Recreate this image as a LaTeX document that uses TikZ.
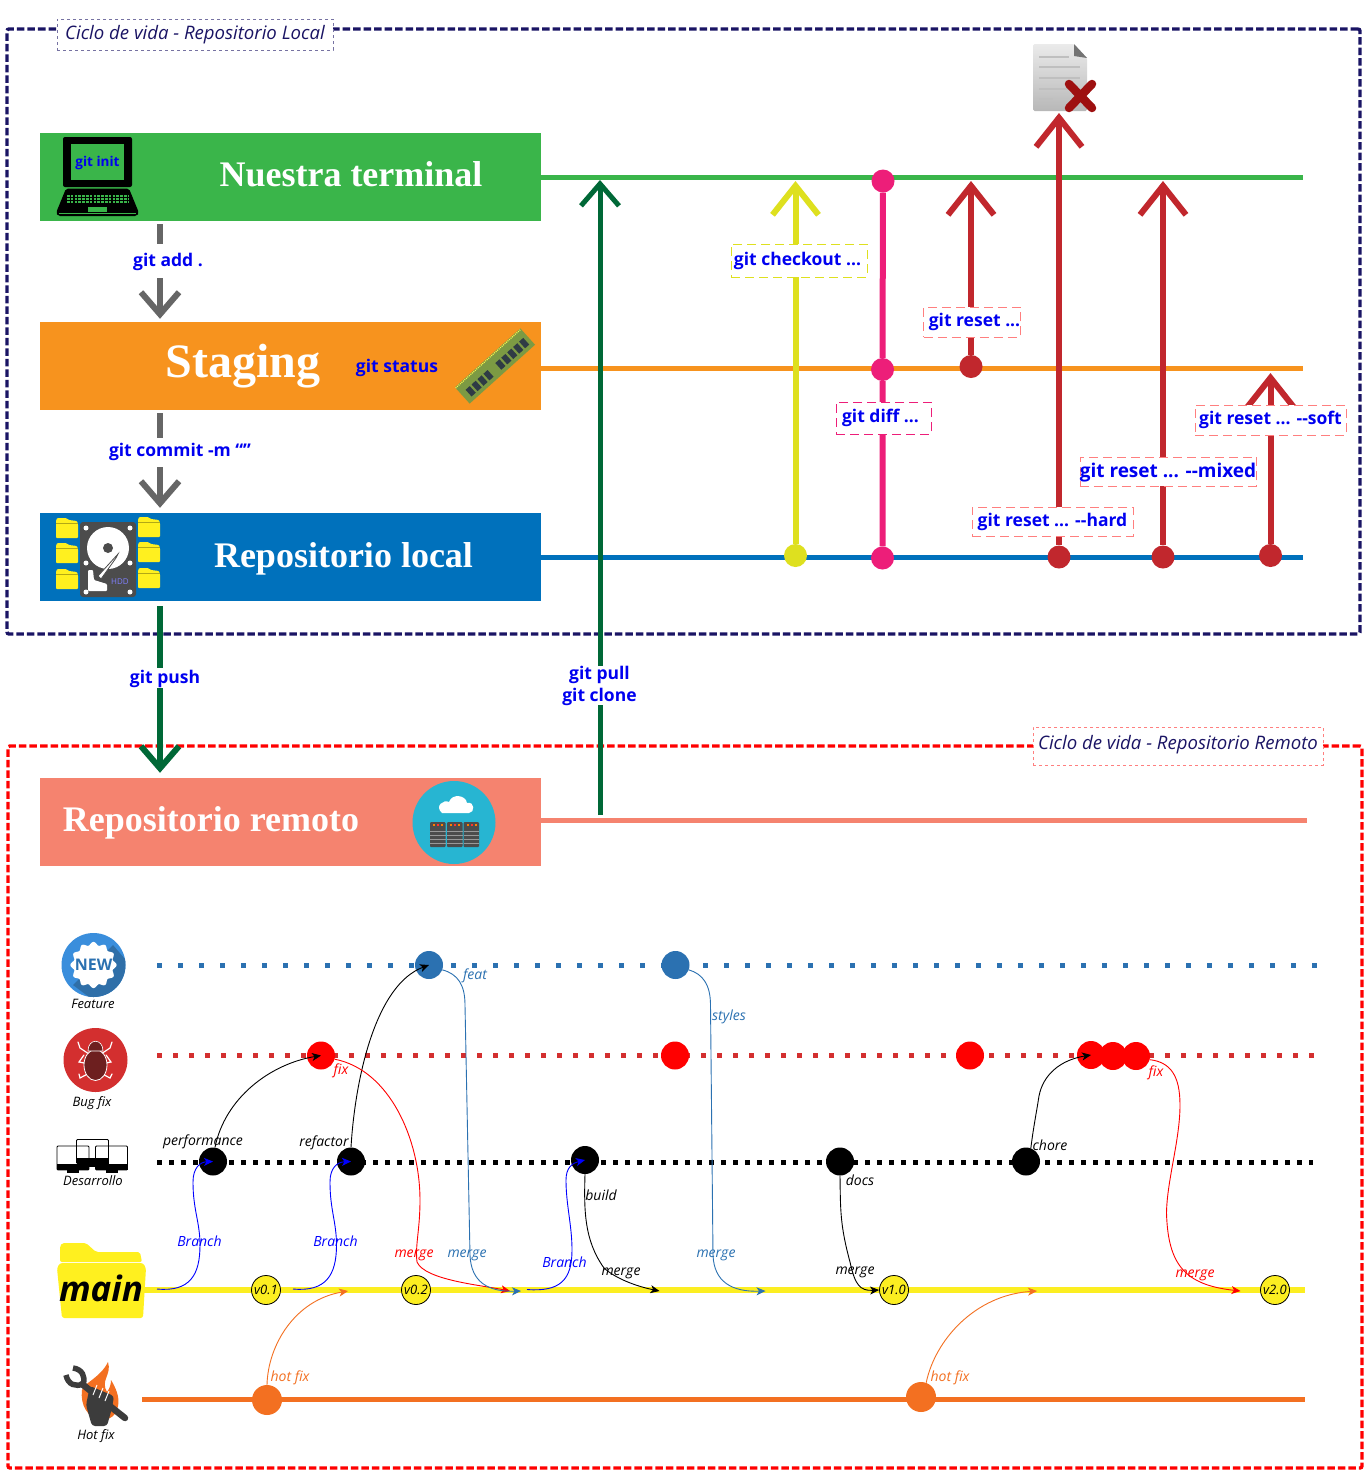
\documentclass[tikz,border=0pt]{standalone}
\usepackage{fontspec}
\setmainfont{Open Sans}
\newfontfamily\serifT{Liberation Serif}
\usetikzlibrary{arrows.meta,calc,shapes.geometric}
\definecolor{navyF}{HTML}{1A1464}
\definecolor{greenB}{HTML}{3AB54A}
\definecolor{orangeB}{HTML}{F7931E}
\definecolor{blueB}{HTML}{0071BC}
\definecolor{salmonB}{HTML}{F5836F}
\definecolor{grayA}{HTML}{666666}
\definecolor{pushG}{HTML}{006837}
\definecolor{yellowA}{HTML}{DEE01F}
\definecolor{pinkA}{HTML}{ED1E79}
\definecolor{redA}{HTML}{C1272D}
\definecolor{redL}{HTML}{FF7F7F}
\definecolor{labelB}{HTML}{0000F0}
\definecolor{featB}{HTML}{2B71B1}
\definecolor{bugR}{HTML}{D32F2F}
\definecolor{mainY}{HTML}{FCEE21}
\definecolor{hotO}{HTML}{F37021}
\definecolor{folderY}{HTML}{FFF01F}
\definecolor{cloudC}{HTML}{27B5D2}
\definecolor{ramG}{HTML}{7C9A43}
\definecolor{ramD}{HTML}{2F3B45}
\definecolor{crossR}{HTML}{9E1010}
\definecolor{newL}{HTML}{3A8EDC}
\definecolor{newD}{HTML}{2F6FA8}
\definecolor{bugD}{HTML}{6D1F1F}
\definecolor{toolD}{HTML}{3C3C3C}
\tikzset{
  frameBox/.style={draw,line width=3.4pt,dash pattern=on 7.5pt off 3pt,rounded corners=2pt,inner sep=0pt},
  titleBox/.style={draw,fill=white,dashed,line width=.6pt,inner sep=0pt,font=\itshape\fontsize{18.6}{20}\selectfont,text=navyF},
  barBox/.style={inner sep=0pt,minimum width=501pt,minimum height=88pt},
  barTitle/.style={text=white,inner sep=0pt,font=\serifT\bfseries\fontsize{36}{40}\selectfont},
  laneLine/.style={line width=5pt},
  gitBase/.style={text=labelB,inner sep=0pt,font=\bfseries\fontsize{17.5}{22}\selectfont},
  gitLabel/.style={gitBase,text height=14.5pt,text depth=3pt},
  gitCover/.style={gitLabel,fill=white},
  dashBox/.style={gitBase,text height=13.5pt,text depth=4pt,fill=white,draw,dashed,line width=.6pt,dash pattern=on 9pt off 5pt},
  bigArrow/.style={line width=#1,-{Straight Barb[length=22pt,width=38pt,line width=#1]}},
  upArrow/.style={line width=6pt,-{Straight Barb[length=29pt,width=46pt,line width=6pt]}},
  upDot/.style={circle,inner sep=0pt,minimum size=23pt},
  commit/.style={circle,inner sep=0pt,minimum size=28pt},
  version/.style={circle,draw=black,fill=mainY,line width=.8pt,inner sep=0pt,minimum size=29pt,font=\itshape\fontsize{13}{14}\selectfont},
  thinCurve/.style={line width=.9pt,-{Stealth[length=9pt,width=8pt,inset=2.5pt]}},
  laneText/.style={inner sep=0pt,font=\itshape\fontsize{14}{15}\selectfont,text height=10.8pt,text depth=2.2pt},
  iconText/.style={inner sep=0pt,font=\itshape\fontsize{13}{15}\selectfont,text height=10.8pt,text depth=2.2pt}
}
\newcommand{\miniFolder}[2]{%
  \fill[folderY,rounded corners=1pt] (#1,#2+3) -- (#1+1,#2) -- (#1+10,#2) -- (#1+13,#2+2) -- (#1+21,#2+3) -- (#1+22,#2+6) -- (#1+22,#2+20) -- (#1,#2+20) -- cycle;
  \draw[black!30!folderY,line width=.5pt] (#1,#2+5) -- (#1+22,#2+5);}
\newcommand{\monitorIcon}[3]{%
  \draw[black,line width=.8pt,rounded corners=1pt,#3] (#1,#2) rectangle (#1+32,#2+24);
  \fill[black] (#1,#2+18) rectangle (#1+32,#2+24);
  \fill[black] (#1+10,#2+24) rectangle (#1+22,#2+27);}
\begin{document}
\begin{tikzpicture}[x=1pt,y=-1pt]
\useasboundingbox (0,0) rectangle (1366,1476);
\fill[white] (0,0) rectangle (1366,1476);

% frames
\node[frameBox,draw=navyF,minimum width=1353pt,minimum height=605pt] (frameLocal) at (683.5,331.5) {};
\node[frameBox,draw=red,minimum width=1354pt,minimum height=722pt] (frameRemote) at (685,1107) {};
\node[titleBox,draw=navyF!60,minimum width=276pt,minimum height=31pt] (titleLocal) at (195,34.5) {\raisebox{-2pt}{Ciclo de vida - Repositorio Local}};
\node[titleBox,draw=redL,minimum width=290pt,minimum height=38pt] (titleRemote) at (1178,746) {\raisebox{8pt}{Ciclo de vida - Repositorio Remoto}};

% bars
\node[barBox,fill=greenB] (barT) at (290.5,177) {};
\node[barBox,fill=orangeB] (barS) at (290.5,366) {};
\node[barBox,fill=blueB] (barL) at (290.5,557) {};
\node[barBox,fill=salmonB] (barR) at (290.5,822) {};
\node[barTitle] (tT) at (351,174.5) {Nuestra terminal};
\node[barTitle,font=\serifT\bfseries\fontsize{48}{50}\selectfont] (tS) at (243,366) {Staging};
\node[barTitle] (tL) at (343.5,559) {Repositorio local};
\node[barTitle] (tR) at (211,822.5) {Repositorio remoto};

% horizontal lines
\coordinate (eT) at (1303,177);
\coordinate (eS) at (1303,368);
\coordinate (eL) at (1303,557);
\coordinate (eR) at (1307,820);
\draw[laneLine,greenB] (barT.east |- eT) -- (eT);
\draw[laneLine,orangeB] (barS.east |- eS) -- (eS);
\draw[laneLine,blueB] (barL.east |- eL) -- (eL);
\draw[laneLine,salmonB] (barR.east |- eR) -- (eR);

% laptop
\fill[black,rounded corners=2pt] (63,137) rectangle (132,187);
\fill[greenB] (70.5,144) rectangle (124,180);
\fill[black,rounded corners=2pt] (66,188.5) -- (129,188.5) -- (139,213) -- (137,216) -- (58,216) -- (56,213) -- cycle;
\foreach \k in {196,199,202}{\draw[greenB,line width=1.5pt,dash pattern=on 2.6pt off 1.2pt] (67,\k) -- (128,\k);}
\fill[greenB] (88,207) rectangle (107,212);
\draw[greenB,line width=.7pt] (59,213.5) -- (136,213.5);
\node[gitLabel,font=\bfseries\fontsize{13.5}{15}\selectfont] (lInit) at (97.5,161) {git init};

% RAM
\begin{scope}[shift={(495,366)},rotate=42]
\fill[ramG] (-44,-11) rectangle (44,11);
\foreach \c in {-35,-27,-19,-11,5,13,21,29,37}{\fill[ramD] (\c-2.8,-2) rectangle (\c+2.8,7);}
\draw[yellow!70!white,line width=1.2pt,dash pattern=on 1pt off 1pt] (-44,-10) -- (44,-10);
\end{scope}
\node[gitLabel] (lStatus) at (397,367) {git status};

% HDD + folders
\foreach \a/\b in {56/518,56/543,56/569,138/517,138/542,138/568}{\miniFolder{\a}{\b}}
\fill[black!70,rounded corners=3pt] (80,522) rectangle (136,597);
\foreach \a/\b in {86/528,130/528,86/563,130/563,86/592,130/592}{\fill[white] (\a,\b) circle (2.5);}
\fill[white] (108,548) circle (21);
\fill[black!70] (108,548) circle (5);
\fill[white,draw=black!70,line width=.8pt] (118,554) -- (116,558) -- (101,579) -- (98,576) -- cycle;
\fill[white,rounded corners=1pt] (88,570) -- (93,570) -- (94,580) -- (107,584) -- (107,591) -- (88,591) -- cycle;
\node[inner sep=0pt,text=blue!50!white,font=\fontsize{8}{8}\selectfont] (hddT) at (120,582) {HDD};

% cloud server
\node[circle,fill=cloudC,inner sep=0pt,minimum size=83pt] (cloudI) at (454,822.5) {};
\fill[white] (442,813) .. controls (434,806) and (444,799) .. (449,802) .. controls (452,793) and (466,795) .. (467,803) .. controls (475,801) and (475,813) .. (469,813) -- cycle;
\foreach \a in {430,447,463.5}{
  \fill[black!70,rounded corners=1pt] (\a,822) rectangle (\a+15.5,847);
  \foreach \b in {831,835,839,843}{\draw[white!60!black,line width=.6pt] (\a,\b) -- (\a+15.5,\b);}
  \fill[orange] (\a+3,823.5) rectangle (\a+5,825.5);
  \fill[red!80] (\a+7,823.5) rectangle (\a+9,825.5);
  \fill[orange] (\a+11,823.5) rectangle (\a+13,825.5);
}

% deleted file
\shade[top color=black!8,bottom color=black!28,rounded corners=1.5pt] (1033,44) -- (1074,44) -- (1087,58) -- (1087,111) -- (1033,111) -- cycle;
\fill[black!55] (1074,44) -- (1087,58) -- (1074,56) -- cycle;
\foreach \a/\b/\c in {1039/1069/57,1039/1080/67,1039/1080/78,1039/1080/89,1039/1053/99}{\draw[black!25,line width=1.6pt] (\a,\c) -- (\b,\c);}
\draw[crossR,line width=8.5pt,line cap=round] (1069,84) -- (1092,108) (1092,84) -- (1069,108);

% main vertical arrows on the left
\coordinate (xG) at (160,0);
\coordinate (xP) at (600,0);
\draw[grayA,bigArrow=6pt,shorten <=3pt,shorten >=3pt] (barT.south -| xG) -- (barS.north -| xG);
\draw[grayA,bigArrow=6pt,shorten <=3pt,shorten >=5pt] (barS.south -| xG) -- (barL.north -| xG);
\draw[pushG,bigArrow=6pt,shorten <=5pt,shorten >=5pt] (barL.south -| xG) -- (barR.north -| xG);
\coordinate (pullS) at (600,815);
\coordinate (pullT) at (600,180);
\draw[pushG,bigArrow=5pt] (pullS) -- (pullT);
\node[gitCover,minimum height=34pt] (lAdd) at (168,261) {git add .};
\node[gitCover,text height=12pt,text depth=4pt,minimum height=29pt] (lCommit) at (180,452) {git commit -m “”};
\node[gitCover,minimum height=20pt] (lPush) at (165,678) {git push};
\node[gitBase,fill=white,align=center] (lPull) at (599.5,685.5) {git pull\\git clone};

% commands
\node[upDot,fill=yellowA] (dCheck) at (795.5,555.5) {};
\node[upDot,fill=pinkA] (dDiffT) at (883,181) {};
\node[upDot,fill=pinkA] (dDiffM) at (882.5,369.5) {};
\node[upDot,fill=pinkA] (dDiffB) at (882.5,558) {};
\node[upDot,fill=redA] (dReset) at (971,366.5) {};
\node[upDot,fill=redA] (dHard) at (1059,557) {};
\node[upDot,fill=redA] (dMixed) at (1163,557) {};
\node[upDot,fill=redA] (dSoft) at (1270.5,555.5) {};
\coordinate (tCheck) at (795.5,181);
\coordinate (tReset) at (971,181);
\coordinate (tHard) at (1059,113);
\coordinate (tMixed) at (1163,181);
\coordinate (tSoft) at (1270.5,373);
\draw[yellowA,upArrow] (dCheck) -- (tCheck);
\draw[pinkA,line width=6pt] (dDiffB) -- (dDiffM) -- (dDiffT);
\draw[redA,upArrow] (dReset) -- (tReset);
\draw[redA,upArrow] (dHard) -- (tHard);
\draw[redA,upArrow] (dMixed) -- (tMixed);
\draw[redA,upArrow] (dSoft) -- (tSoft);
\node[dashBox,draw=yellowA,minimum width=136pt,minimum height=33pt] (lCheck) at (799,260.5) {git checkout ...\hspace*{3pt}};
\node[dashBox,draw=pinkA,minimum width=95pt,minimum height=32pt] (lDiff) at (883.5,418) {git diff ...\hspace*{6pt}};
\node[dashBox,draw=redL,minimum width=94pt,minimum height=30pt] (lReset) at (972,322) {\hspace*{5pt}git reset ...};
\node[dashBox,draw=redL,minimum width=151pt,minimum height=30pt] (lSoft) at (1270.5,420) {git reset ... -{}-soft};
\node[dashBox,draw=redL,text height=14.5pt,text depth=2pt,minimum width=172pt,minimum height=29pt,font=\bfseries\fontsize{19}{22}\selectfont] (lMixed) at (1168,471.5) {git reset ... -{}-mixed};
\node[dashBox,draw=redL,minimum width=161pt,minimum height=29pt] (lHard) at (1052.5,521.5) {git reset ... -{}-hard};

% lanes
\coordinate (fS) at (157,965); \coordinate (fE) at (1318,965);
\coordinate (bS) at (157,1055.5); \coordinate (bE) at (1315,1055.5);
\coordinate (dS) at (157,1162); \coordinate (dE) at (1313,1162);
\coordinate (mS) at (143,1290); \coordinate (mE) at (1305,1290);
\coordinate (hS) at (142,1399); \coordinate (hE) at (1305,1399);
\draw[laneLine,featB,dash pattern=on 5pt off 16pt] (fS) -- (fE);
\draw[laneLine,bugR,dash pattern=on 5pt off 11pt] (bS) -- (bE);
\draw[laneLine,black,dash pattern=on 5pt off 7pt] (dS) -- (dE);
\draw[line width=6pt,mainY] (mS) -- (mE);
\draw[laneLine,hotO] (hS) -- (hE);

% commits
\node[commit,fill=featB] (cFeat) at (429,965) {};
\node[commit,fill=featB] (cStyle) at (675.5,965) {};
\node[commit,fill=red] (cFix) at (321,1055.5) {};
\node[commit,fill=red] (cB2) at (675,1055.5) {};
\node[commit,fill=red] (cB3) at (970,1055.5) {};
\node[commit,fill=red] (cB4) at (1091,1055) {};
\node[commit,fill=red] (cB5) at (1113,1056) {};
\node[commit,fill=red] (cB6) at (1136,1056) {};
\node[commit,fill=black] (cPerf) at (213,1161.5) {};
\node[commit,fill=black] (cRef) at (351,1161.5) {};
\node[commit,fill=black] (cBuild) at (585,1160) {};
\node[commit,fill=black] (cDocs) at (840,1161.5) {};
\node[commit,fill=black] (cChore) at (1026,1161.5) {};
\node[version] (v1) at (266,1290) {v0.1};
\node[version] (v2) at (416,1290) {v0.2};
\node[version] (v3) at (894,1290) {v1.0};
\node[version] (v4) at (1275,1290) {v2.0};
\node[commit,fill=hotO,minimum size=30pt] (cH1) at (267,1400) {};
\node[commit,fill=hotO,minimum size=30pt] (cH2) at (921,1397) {};

% curves
\coordinate (s1) at (157,1289);
\coordinate (s2) at (293,1289);
\coordinate (s3) at (527,1289.5);
\coordinate (m1) at (510,1291);
\coordinate (m2) at (521,1291);
\coordinate (m3) at (659.5,1291);
\coordinate (m4) at (765.5,1291);
\coordinate (m5) at (1240.5,1291);
\coordinate (h1) at (348,1291);
\coordinate (h2) at (1037,1291);
\draw[thinCurve,blue] (s1) .. controls (190,1292) and (200,1275) .. (200,1245) .. controls (200,1222) and (193,1210) .. (193,1182) .. controls (193,1168) and (200,1162) .. (cPerf.center);
\draw[thinCurve,blue] (s2) .. controls (326,1292) and (336.5,1275) .. (336.5,1245) .. controls (336.5,1222) and (330,1210) .. (330,1182) .. controls (330,1168) and (337,1162) .. (cRef.center);
\draw[thinCurve,blue] (s3) .. controls (560,1292) and (572,1280) .. (572,1250) .. controls (572,1225) and (566,1205) .. (566,1180) .. controls (566,1168) and (572,1163) .. (cBuild.center);
\draw[thinCurve,black] (cPerf.north) ++(2,0) .. controls (225,1098) and (270,1064) .. (cFix.center);
\draw[thinCurve,black] (cRef.north) .. controls (355,1080) and (375,985) .. (cFeat.center);
\draw[thinCurve,red] (cFix.-15) .. controls (390,1070) and (420,1140) .. (420,1200) .. controls (420,1230) and (415,1245) .. (417,1262) .. controls (425,1280) and (480,1285) .. (m1);
\draw[thinCurve,featB] (cFeat.-20) .. controls (458,974) and (465,985) .. (465,1005) -- (470,1255) .. controls (471,1282) and (488,1292) .. (m2);
\draw[thinCurve,black] (cBuild.south) .. controls (584,1210) and (584,1240) .. (604,1268) .. controls (615,1278) and (635,1286) .. (m3);
\draw[thinCurve,featB] (cStyle.-20) .. controls (703,974) and (710.5,985) .. (710.5,1005) -- (713,1255) .. controls (714,1282) and (732,1292) .. (m4);
\draw[thinCurve,black] (cDocs.south) .. controls (840.5,1210) and (840,1225) .. (850,1262) .. controls (855,1285) and (860,1291) .. (v3.west);
\draw[thinCurve,black] (cChore.70) .. controls (1033,1130) and (1036,1115) .. (1039,1096) .. controls (1043,1075) and (1060,1060) .. (cB4.center);
\draw[thinCurve,red] (cB6.-15) .. controls (1170,1062) and (1180,1075) .. (1180,1105) .. controls (1180,1140) and (1167,1180) .. (1166.5,1213) .. controls (1168,1265) and (1185,1285) .. (m5);
\draw[thinCurve,hotO] (cH1.north) .. controls (268,1345) and (295,1300) .. (h1);
\draw[thinCurve,hotO] (cH2.70) .. controls (935,1340) and (975,1295) .. (h2);

% lane texts
\foreach \n/\a/\b/\t/\c in {
 tpf/203/1141/performance/black, trf/324/1142/refactor/black,
 tfx/341/1070/fix/red, tfe/475/975/feat/featB, tst/729/1016/styles/featB,
 tbd/601/1196/build/black, tdc/860/1181/docs/black, tch/1050/1146/chore/black,
 tf2/1156/1072/fix/red, tb1/199.5/1242/Branch/blue, tb2/335.5/1242/Branch/blue,
 tb3/564.5/1263/Branch/blue, tm1/414/1253/merge/red, tm2/467/1253/merge/featB,
 tm3/621/1271/merge/black, tm4/716/1253/merge/featB, tm5/855/1270/merge/black,
 tm6/1195/1273/merge/red, th1/290/1377/hot fix/hotO, th2/950/1377/hot fix/hotO}
 {\node[laneText,text=\c] (\n) at (\a,\b) {\t};}
\foreach \n/\a/\b/\t in {lFeat/93/1004/Feature, lBug/92/1102/Bug fix, lDes/93/1181/Desarrollo, lHot/96/1435/Hot fix}
 {\node[iconText] (\n) at (\a,\b) {\t};}

% NEW icon
\fill[newL] (93.5,965) circle (32);
\begin{scope}
\clip (93.5,965) circle (32);
\fill[newD] (113,945) -- (130,965) -- (130,1000) -- (93,1000) -- (73,985) -- cycle;
\end{scope}
\fill[white] plot[domain=0:360,samples=121,smooth] ({93.5+(21.5+1.6*cos(12*\x))*cos(\x)},{965+(21.5+1.6*cos(12*\x))*sin(\x)}) -- cycle;
\node[inner sep=0pt,text=featB,font=\bfseries\fontsize{16}{18}\selectfont] (newT) at (93.5,965) {NEW};

% bug icon
\fill[bugR] (95.5,1060) circle (32);
\draw[white,line width=1.2pt,line cap=round] (95,1058) -- (80,1048) -- (78,1042) (95,1058) -- (110,1048) -- (112,1042) (95,1065) -- (79,1062) -- (84,1055) (95,1065) -- (111,1062) -- (106,1055) (95,1070) -- (80,1078) -- (79,1074) (95,1070) -- (110,1078) -- (112,1074);
\fill[bugD,draw=white,line width=.8pt] (95.5,1065) ellipse (11.5 and 15.5);
\fill[bugD,draw=white,line width=.6pt] (88,1051) .. controls (88,1038) and (103,1038) .. (103,1051) -- cycle;

% monitors
\monitorIcon{57}{1146}{fill=white}
\monitorIcon{95.5}{1146}{fill=white}
\monitorIcon{76.5}{1139.5}{}

% main folder
\fill[folderY,rounded corners=2pt] (60,1262) -- (60,1246) -- (62,1243) -- (86,1243) -- (96,1252) -- (140,1252) -- (142,1262) -- cycle;
\fill[folderY,rounded corners=2.5pt] (57,1268) -- (60,1263) -- (143,1263) -- (146,1268) -- (143,1318) -- (62,1318) -- cycle;
\node[inner sep=0pt,font=\bfseries\itshape\fontsize{35}{38}\selectfont] (mainT) at (101,1288) {main};

% hot fix icon
\fill[hotO] (108,1362) .. controls (112,1375) and (100,1380) .. (107,1392) .. controls (110,1388) and (111,1384) .. (111,1380) .. controls (116,1388) and (120,1398) .. (118,1406) .. controls (116,1416) and (110,1420) .. (100,1420) .. controls (88,1418) and (80,1405) .. (82,1390) .. controls (85,1382) and (100,1378) .. (108,1362) -- cycle;
\draw[toolD,line width=6.5pt,line cap=round] (82,1384) -- (125,1418);
\draw[toolD,line width=5.5pt] (66,1375) .. controls (68,1385) and (76,1387) .. (83,1384) .. controls (86,1377) and (82,1369) .. (73,1368);
\fill[toolD,rounded corners=3pt] (90,1386) -- (114,1396) -- (112,1408) -- (107,1426) -- (92,1426) -- (86,1405) -- cycle;
\draw[white,line width=1pt] (97,1385) -- (93,1395) (103,1388) -- (99,1398) (109,1391) -- (105,1401);
\end{tikzpicture}
\end{document}
